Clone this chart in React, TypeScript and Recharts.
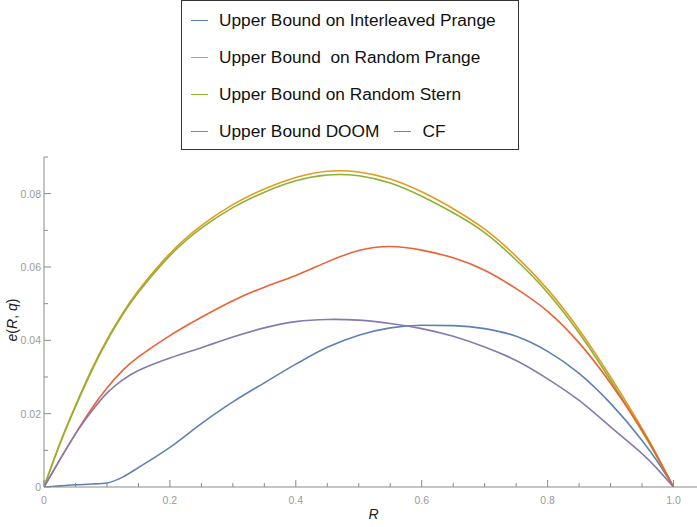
import { LineChart, Line, XAxis, YAxis, Legend } from "recharts";

// R grid and the five bound curves e(R, q)
const rValues = [
  0, 0.025, 0.05, 0.075, 0.1, 0.125, 0.15, 0.2, 0.25, 0.3, 0.35, 0.4, 0.45,
  0.5, 0.55, 0.6, 0.65, 0.7, 0.75, 0.8, 0.85, 0.9, 0.95, 0.975, 1.0,
];
const interleavedPrange = [
  0, 0.0003, 0.0006, 0.0008, 0.0011, 0.0027, 0.0053, 0.0108, 0.0173, 0.0232,
  0.0284, 0.0335, 0.0381, 0.0414, 0.0434, 0.0441, 0.044, 0.0432, 0.0411,
  0.037, 0.031, 0.0228, 0.0127, 0.0068, 0,
];
const randomPrange = [
  0, 0.0118, 0.0222, 0.0318, 0.0402, 0.0474, 0.0536, 0.0637, 0.0713, 0.077,
  0.0813, 0.0844, 0.0861, 0.0859, 0.084, 0.0805, 0.0759, 0.0703, 0.0629,
  0.0539, 0.0429, 0.03, 0.016, 0.0083, 0,
];
const randomStern = [
  0, 0.0116, 0.0219, 0.0314, 0.0398, 0.047, 0.0531, 0.0631, 0.0706, 0.0762,
  0.0804, 0.0835, 0.0851, 0.0849, 0.0829, 0.0793, 0.0748, 0.0694, 0.0619,
  0.053, 0.042, 0.0291, 0.0152, 0.0078, 0,
];
const doom = [
  0, 0.0074, 0.0145, 0.0212, 0.027, 0.0318, 0.0355, 0.0413, 0.0463, 0.0508,
  0.0545, 0.0577, 0.0614, 0.0645, 0.0656, 0.0646, 0.0625, 0.0591, 0.0541,
  0.0479, 0.0393, 0.0283, 0.0155, 0.008, 0,
];
const cf = [
  0, 0.0074, 0.0145, 0.0205, 0.0256, 0.0292, 0.0318, 0.0352, 0.038, 0.0409,
  0.0434, 0.0451, 0.0457, 0.0455, 0.0446, 0.0432, 0.0411, 0.0382, 0.0345,
  0.0295, 0.0236, 0.0164, 0.0091, 0.0048, 0,
];

const seriesNames = [
  "Upper Bound on Interleaved Prange",
  "Upper Bound  on Random Prange",
  "Upper Bound on Random Stern",
  "Upper Bound DOOM",
  "CF",
];
const seriesKeys = ["interleaved", "prange", "stern", "doom", "cf"];
const seriesColors = ["#5E81B5", "#E19C24", "#8FB032", "#EB6235", "#8778B3"];
// legend rows, by series key
const legendRows = [["interleaved"], ["prange"], ["stern"], ["doom", "cf"]];

const xTicks = [
  0, 0.05, 0.1, 0.15, 0.2, 0.25, 0.3, 0.35, 0.4, 0.45, 0.5, 0.55, 0.6, 0.65,
  0.7, 0.75, 0.8, 0.85, 0.9, 0.95, 1.0,
];
const xMajorTicks = [0, 0.2, 0.4, 0.6, 0.8, 1.0];
const xTickLabels = ["0", "0.2", "0.4", "0.6", "0.8", "1.0"];

const yTicks = [
  0, 0.005, 0.01, 0.015, 0.02, 0.025, 0.03, 0.035, 0.04, 0.045, 0.05, 0.055,
  0.06, 0.065, 0.07, 0.075, 0.08, 0.085, 0.09,
];
const yMajorTicks = [0, 0.02, 0.04, 0.06, 0.08];
const yTickLabels = ["0", "0.02", "0.04", "0.06", "0.08"];

const data = rValues.map((r, i) => ({
  r,
  interleaved: interleavedPrange[i],
  prange: randomPrange[i],
  stern: randomStern[i],
  doom: doom[i],
  cf: cf[i],
}));

const axisColor = "#8a8a8a";
const tickTextColor = "#9a9a9a";
const font = "'Liberation Sans', Arial, sans-serif";

function XTick({ x, y, payload }: any) {
  const i = xMajorTicks.indexOf(payload.value);
  const major = i >= 0;
  return (
    <g>
      <line x1={x} x2={x} y1={y} y2={y - (major ? 7 : 4)} stroke={axisColor} />
      {major && (
        <text
          x={x}
          y={y + 17}
          textAnchor="middle"
          fontSize={10.5}
          fontFamily={font}
          fill={tickTextColor}
        >
          {xTickLabels[i]}
        </text>
      )}
    </g>
  );
}

function YTick({ x, y, payload }: any) {
  const i = yMajorTicks.indexOf(payload.value);
  const major = i >= 0;
  return (
    <g>
      <line x1={x} x2={x + (major ? 7 : 4)} y1={y} y2={y} stroke={axisColor} />
      {major && (
        <text
          x={x - 3}
          y={y + 4}
          textAnchor="end"
          fontSize={10.5}
          fontFamily={font}
          fill={tickTextColor}
        >
          {yTickLabels[i]}
        </text>
      )}
    </g>
  );
}

function XLabel({ viewBox }: any) {
  const cx = viewBox.x + viewBox.width / 2 + 3;
  return (
    <text
      x={cx}
      y={viewBox.y + 32}
      textAnchor="middle"
      fontSize={14}
      fontFamily={font}
      fontStyle="italic"
      fill="#222"
    >
      R
    </text>
  );
}

function YLabel() {
  return (
    <text
      transform="translate(17, 320) rotate(-90)"
      textAnchor="middle"
      fontSize={14}
      fontFamily={font}
      fill="#222"
    >
      <tspan fontStyle="italic">e</tspan>
      <tspan>(</tspan>
      <tspan fontStyle="italic">R</tspan>
      <tspan>, </tspan>
      <tspan fontStyle="italic">q</tspan>
      <tspan>)</tspan>
    </text>
  );
}

function LegendBox({ payload }: any) {
  const items: any[] = payload ?? [];
  const find = (key: string) => items.find((p) => p.dataKey === key);
  return (
    <div
      style={{
        width: 338,
        height: 150,
        border: "1px solid #333",
        background: "#fff",
        boxSizing: "border-box",
        paddingTop: 1,
        fontFamily: font,
        fontSize: 17.3,
        color: "#111",
      }}
    >
      {legendRows.map((row, ri) => (
        <div
          key={ri}
          style={{
            height: 37,
            display: "flex",
            alignItems: "center",
            paddingLeft: 9,
          }}
        >
          {row.map((key) => {
            const item = find(key);
            if (!item) return null;
            return (
              <span
                key={key}
                style={{ display: "flex", alignItems: "center", marginRight: 15 }}
              >
                <span
                  style={{
                    width: 17,
                    height: 1.5,
                    background: item.color,
                    marginRight: 11,
                  }}
                />
                <span style={{ whiteSpace: "pre" }}>{item.value}</span>
              </span>
            );
          })}
        </div>
      ))}
    </div>
  );
}

export default function App() {
  return (
    <div style={{ position: "absolute", left: 0, top: 0 }}>
      <LineChart
        width={697}
        height={527}
        data={data}
        margin={{ top: 157, right: 0, bottom: 0, left: 0 }}
      >
        <XAxis
          dataKey="r"
          type="number"
          domain={[0, 1.0373]}
          ticks={xTicks}
          tick={<XTick />}
          tickLine={false}
          tickSize={0}
          tickMargin={0}
          height={40}
          stroke={axisColor}
          allowDataOverflow
          label={<XLabel />}
        />
        <YAxis
          type="number"
          domain={[0, 0.09]}
          ticks={yTicks}
          tick={<YTick />}
          tickLine={false}
          tickSize={0}
          tickMargin={0}
          width={44}
          stroke={axisColor}
          allowDataOverflow
          label={<YLabel />}
        />
        <Legend
          layout="vertical"
          align="center"
          verticalAlign="middle"
          content={<LegendBox />}
          wrapperStyle={{ position: "absolute", top: 0, left: 181, width: 338 }}
        />
        {seriesKeys.map((key, i) => (
          <Line
            key={key}
            type={key === "interleaved" ? "monotone" : "natural"}
            dataKey={key}
            name={seriesNames[i]}
            stroke={seriesColors[i]}
            strokeWidth={1.6}
            dot={false}
            activeDot={false}
            isAnimationActive={false}
          />
        ))}
      </LineChart>
    </div>
  );
}
